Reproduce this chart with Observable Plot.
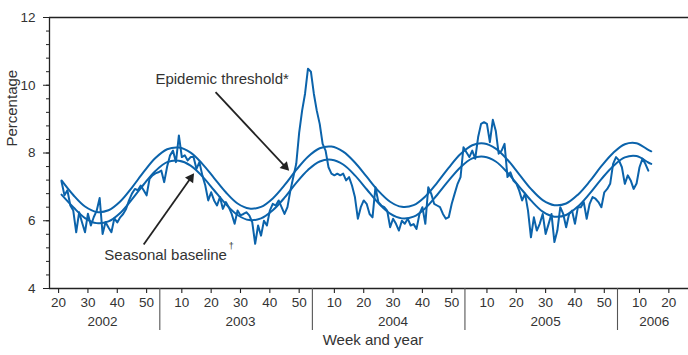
<!DOCTYPE html>
<html><head><meta charset="utf-8">
<script src="https://cdn.jsdelivr.net/npm/d3@7"></script>
<script src="https://cdn.jsdelivr.net/npm/@observablehq/plot@0.6"></script>
<style>
html,body{margin:0;padding:0;background:#fff;}
</style></head><body><div id="chart"></div>
<script>
// Week index t = (year - 2002) * 52 + week
const startWeek = 21; // 2002, week 21
const observed = [
 7.16,6.75,6.90,6.45,6.30,5.66,6.25,5.95,5.66,6.21,
 5.86,6.11,6.30,6.67,5.61,5.96,5.80,5.66,6.07,5.95,
 6.10,6.20,6.35,6.60,6.80,6.94,6.90,7.04,6.90,6.75,
 7.24,7.34,7.40,7.43,7.48,7.14,7.60,7.93,8.07,7.73,
 8.52,7.88,7.93,7.78,7.88,7.88,7.53,7.73,7.34,7.04,
 6.60,6.84,6.60,6.45,6.70,6.35,6.55,6.40,6.20,5.91,
 6.30,6.16,6.20,6.25,6.16,5.96,5.32,5.86,5.56,6.00,
 5.86,6.30,6.50,6.45,6.60,6.40,6.20,6.40,6.89,7.29,
 7.68,8.60,9.25,9.75,10.49,10.40,9.75,9.25,8.86,8.27,
 8.07,7.58,7.39,7.34,7.39,7.34,7.39,7.19,7.29,7.04,
 6.70,6.06,6.40,6.60,6.50,6.20,6.10,6.99,6.55,6.45,
 6.40,6.30,5.81,6.06,5.91,5.71,6.00,5.91,6.06,5.86,
 5.90,5.76,6.20,6.40,5.91,6.99,6.80,6.50,6.45,6.40,
 6.20,6.06,6.11,6.50,6.80,7.09,7.29,8.17,8.02,7.88,
 8.07,7.83,8.47,8.86,8.91,8.86,8.32,8.98,8.66,7.98,
 8.07,8.27,7.29,7.43,7.19,7.10,6.89,6.60,6.80,6.30,
 5.51,6.10,5.71,5.91,6.20,5.61,5.90,6.20,5.37,5.71,
 6.40,6.20,5.81,6.20,6.30,5.91,6.40,6.40,6.55,6.06,
 6.50,6.70,6.65,6.55,6.40,6.84,6.94,7.09,7.68,7.88,
 7.78,7.58,7.09,7.34,7.19,6.94,7.10,7.58,7.83,7.68,
 7.48
];
const curveWeeks = [21,25,29,33,37,41,45,49,53,57,61,65,69,73,77,81,85,89,93,97,
 101,105,109,113,117,121,125,129,133,137,141,145,149,153,157,161,165,169,173,177,
 181,185,189,193,197,201,205,209,213,217,221,222];
const threshold = [
 7.19,6.76,6.42,6.26,6.31,6.57,6.98,7.44,7.85,8.11,
 8.16,8.01,7.68,7.26,6.84,6.51,6.36,6.41,6.66,7.05,
 7.50,7.89,8.14,8.19,8.04,7.72,7.30,6.88,6.56,6.41,
 6.46,6.72,7.12,7.57,7.97,8.23,8.28,8.13,7.80,7.37,
 6.94,6.61,6.46,6.51,6.77,7.16,7.61,8.00,8.26,8.29,
 8.09,8.05];
const baseline = [
 6.77,6.40,6.08,5.93,5.98,6.23,6.63,7.07,7.47,7.73,
 7.77,7.63,7.31,6.90,6.49,6.17,6.02,6.07,6.31,6.68,
 7.12,7.50,7.75,7.80,7.66,7.34,6.93,6.52,6.21,6.07,
 6.12,6.37,6.76,7.19,7.58,7.84,7.89,7.75,7.42,7.01,
 6.60,6.27,6.12,6.17,6.42,6.80,7.23,7.61,7.87,7.91,
 7.72,7.68];
const years = [2002,2003,2004,2005,2006];
const weekTicks = [[20,30,40,50],[10,20,30,40,50],[10,20,30,40,50],[10,20,30,40,50],[10,20]];
const yTicks = [4,6,8,10,12];
const yLabel = "Percentage";
const xLabel = "Week and year";
const thresholdLabel = "Epidemic threshold*";
const baselineLabel = "Seasonal baseline";

// ---------- layout ----------
const W = 688, H = 355, mL = 49, mR = 0, mT = 17, mB = 67;
const xDomain = [16.9, 234.7], yDomain = [4, 12];
const blue = "#0b63ab", ink = "#222", txt = "#333";
const font = "'Liberation Sans', Arial, Helvetica, sans-serif";
const sx = Plot.scale({x: {domain: xDomain, range: [mL, W - mR]}});
const sy = Plot.scale({y: {domain: yDomain, range: [H - mB, mT]}});

const obsData = observed.map((v, i) => ({t: startWeek + i, v}));
const thrData = curveWeeks.map((t, i) => ({t, v: threshold[i]}));
const baseData = curveWeeks.map((t, i) => ({t, v: baseline[i]}));

const xTickData = [];
years.forEach((y, k) => weekTicks[k].forEach(w => xTickData.push({t: (y - 2002) * 52 + w, label: String(w)})));
const yearLabels = years.map((y, k) => ({t: d3.mean(weekTicks[k], w => (y - 2002) * 52 + w), label: String(y)}));
const separators = years.slice(1).map(y => (y - 2002) * 52 + 2.5);
const minorY = d3.range(4, 12.001, 0.4).map(d => +d.toFixed(1));

// annotation arrows (data coordinates)
const arrows = [
  {x1: 73.5, y1: 9.80, x2: 98.5, y2: 7.48},
  {x1: 49.0, y1: 5.30, x2: 66.1, y2: 7.39}
];
const heads = arrows.map(a => {
  const px1 = sx.apply(a.x1), py1 = sy.apply(a.y1), px2 = sx.apply(a.x2), py2 = sy.apply(a.y2);
  const ang = Math.atan2(py2 - py1, px2 - px1);
  const back = 5.4;
  const cx = px2 - back * Math.cos(ang), cy = py2 - back * Math.sin(ang);
  return {x1: a.x1, y1: a.y1, x: sx.invert(cx), y: sy.invert(cy), rotate: ang * 180 / Math.PI + 90};
});
const labels = [
  {x: 53.0, y: 10.19, text: thresholdLabel},
  {x: 35.6, y: 4.97, text: baselineLabel}
];

const chart = Plot.plot({
  width: W, height: H,
  marginLeft: mL, marginRight: mR, marginTop: mT, marginBottom: mB,
  x: {domain: xDomain, axis: null},
  y: {domain: yDomain},
  style: {fontFamily: font, fontSize: "13.5px", color: ink, background: "#fff", overflow: "visible"},
  marks: [
    // frame lines
    Plot.ruleY([12], {stroke: ink, strokeWidth: 1.3}),
    Plot.ruleY([4], {stroke: ink, strokeWidth: 1.3}),
    Plot.ruleX([xDomain[0]], {stroke: ink, strokeWidth: 1.3}),
    // y axis
    Plot.axisY(minorY, {tickSize: 3, tickFormat: () => "", label: null, stroke: ink}),
    Plot.axisY(yTicks, {tickSize: 6, tickPadding: 8, label: null, stroke: ink, fill: txt, fontSize: 13.5}),
    // x axis ticks and labels
    Plot.ruleX(xTickData, {x: "t", y1: 4, y2: sy.invert(H - mB + 5), stroke: ink, strokeWidth: 1.1}),
    Plot.text(xTickData, {x: "t", text: "label", frameAnchor: "bottom", dy: 18.4, fill: txt, fontSize: 13.5}),
    Plot.ruleX(separators, {y1: 4, y2: sy.invert(330), stroke: "#555", strokeWidth: 1.1}),
    Plot.text(yearLabels, {x: "t", text: "label", frameAnchor: "bottom", dy: 37, fill: txt, fontSize: 13.5}),
    // axis titles
    Plot.text([{t: xLabel}], {text: "t", frameAnchor: "bottom", dx: 4, dy: 56.2, fill: txt, fontSize: 15}),
    Plot.text([{y: 8.19, t: yLabel}], {y: "y", text: "t", frameAnchor: "left", dx: -37.5, rotate: -90, fill: txt, fontSize: 15}),
    // series
    Plot.line(thrData, {x: "t", y: "v", stroke: blue, strokeWidth: 2, curve: "catmull-rom"}),
    Plot.line(baseData, {x: "t", y: "v", stroke: blue, strokeWidth: 2, curve: "catmull-rom"}),
    Plot.line(obsData, {x: "t", y: "v", stroke: blue, strokeWidth: 2, strokeLinejoin: "round"}),
    // annotations
    Plot.link(heads, {x1: "x1", y1: "y1", x2: "x", y2: "y", stroke: ink, strokeWidth: 1.8}),
    Plot.dot(heads, {x: "x", y: "y", symbol: "triangle", r: 3.7, fill: ink, stroke: "none", rotate: "rotate"}),
    Plot.text(labels, {x: "x", y: "y", text: "text", textAnchor: "start", fill: txt, fontSize: 15}),
    Plot.text([{x: 35.6, y: 4.97, t: "†"}], {x: "x", y: "y", text: "t", textAnchor: "start", dx: 124.5, dy: -10, fill: txt, fontSize: 9})
  ]
});
document.getElementById("chart").appendChild(chart);
</script>
</body></html>
